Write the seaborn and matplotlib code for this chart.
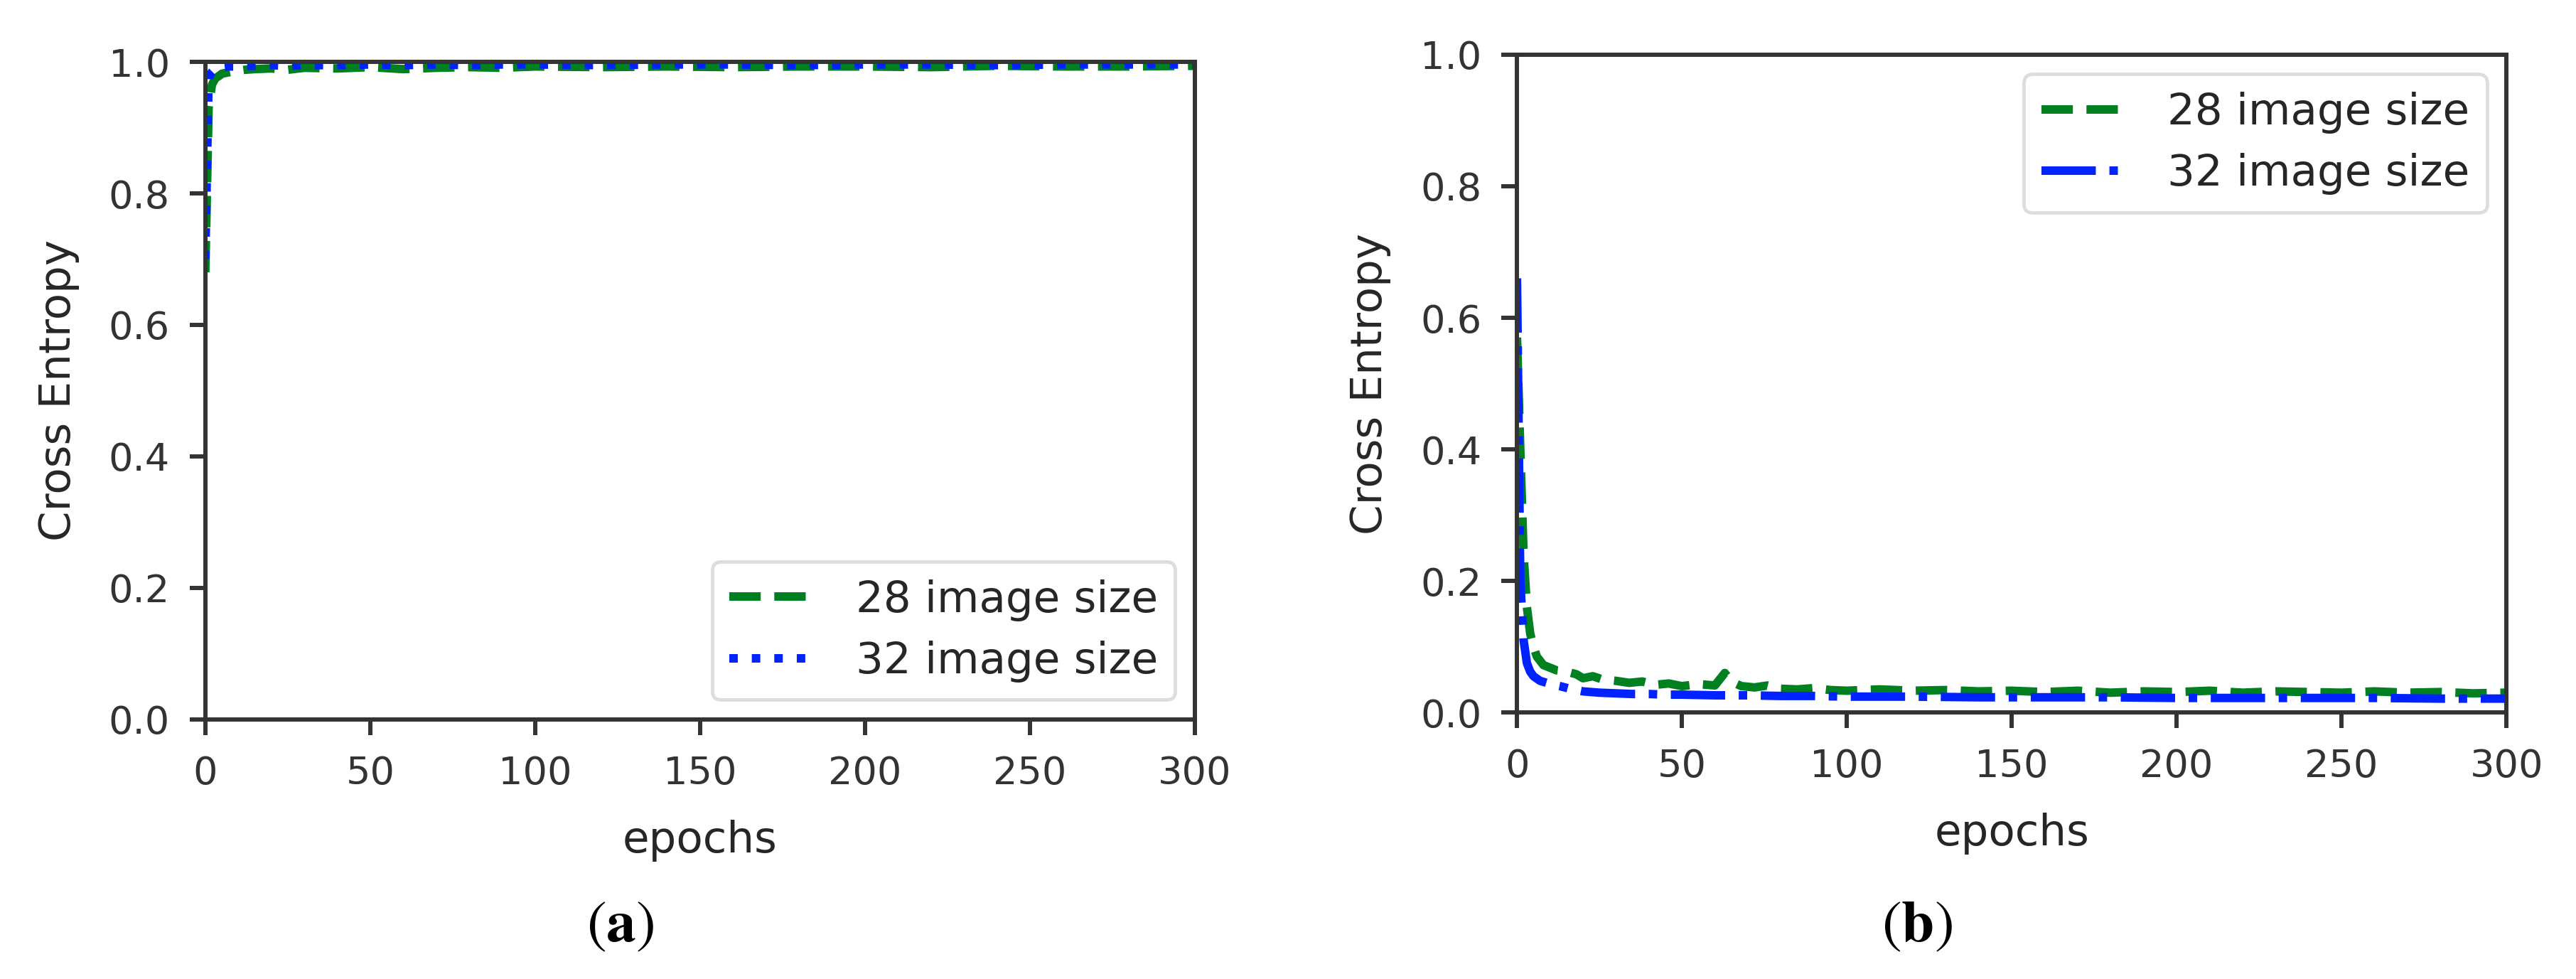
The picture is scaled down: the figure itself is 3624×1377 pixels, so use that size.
import matplotlib
matplotlib.use("Agg")
import matplotlib.pyplot as plt
import numpy as np
import pandas as pd
import seaborn as sns

# accuracy-like curves, panel (a)
acc_epochs = [0, 1, 2, 3, 4, 5, 7, 9, 12, 15, 20, 25, 30, 40, 50, 60, 70, 80, 90, 100,
              120, 140, 160, 180, 200, 220, 240, 260, 280, 300]
acc_28 = [0.68, 0.93, 0.965, 0.975, 0.978, 0.982, 0.984, 0.986, 0.988, 0.989, 0.990, 0.988,
          0.991, 0.990, 0.992, 0.989, 0.991, 0.992, 0.991, 0.993, 0.992, 0.993, 0.992, 0.993,
          0.993, 0.992, 0.994, 0.993, 0.993, 0.994]
acc_32 = [0.70, 0.975, 0.985, 0.990, 0.991, 0.992, 0.993, 0.993, 0.994, 0.994, 0.995, 0.994,
          0.995, 0.995, 0.996, 0.995, 0.996, 0.995, 0.996, 0.996, 0.995, 0.996, 0.996, 0.995,
          0.996, 0.996, 0.995, 0.996, 0.996, 0.996]

# loss curves, panel (b)
loss_epochs_28 = [0, 1, 2, 3, 4, 5, 6, 8, 10, 12, 15, 18, 20, 23, 26, 30, 34, 38, 42, 46,
                  50, 55, 60, 63, 65, 68, 72, 76, 80, 85, 90, 95, 100, 110, 120, 130, 140,
                  150, 160, 170, 180, 190, 200, 210, 220, 230, 240, 250, 260, 270, 280, 290, 300]
loss_28 = [0.57, 0.40, 0.24, 0.16, 0.12, 0.10, 0.085, 0.072, 0.068, 0.064, 0.062, 0.058,
           0.052, 0.055, 0.050, 0.048, 0.045, 0.047, 0.042, 0.044, 0.040, 0.043, 0.041,
           0.060, 0.047, 0.040, 0.038, 0.041, 0.036, 0.035, 0.037, 0.034, 0.033, 0.035,
           0.033, 0.034, 0.032, 0.033, 0.031, 0.033, 0.030, 0.032, 0.031, 0.033, 0.030,
           0.032, 0.031, 0.030, 0.032, 0.030, 0.031, 0.029, 0.030]
loss_epochs_32 = [0, 1, 2, 3, 4, 5, 7, 9, 11, 13, 16, 20, 25, 30, 35, 40, 45, 50, 60, 70,
                  80, 90, 100, 120, 140, 160, 180, 200, 220, 240, 260, 280, 300]
loss_32 = [0.66, 0.20, 0.11, 0.075, 0.062, 0.055, 0.048, 0.045, 0.042, 0.040, 0.036,
           0.032, 0.030, 0.029, 0.028, 0.028, 0.027, 0.027, 0.026, 0.026, 0.025, 0.025,
           0.024, 0.024, 0.023, 0.023, 0.023, 0.022, 0.022, 0.022, 0.022, 0.021, 0.021]

labels = ["28 image size", "32 image size"]
colors = ["#008020", "#0022ff"]

sns.set_theme(style="ticks")
plt.rcParams["font.family"] = ["DejaVu Sans"]
plt.rcParams["mathtext.fontset"] = "stix"
plt.rcParams["axes.edgecolor"] = "#333333"
plt.rcParams["xtick.color"] = "#333333"
plt.rcParams["ytick.color"] = "#333333"
plt.rcParams["text.color"] = "#262626"
plt.rcParams["axes.labelcolor"] = "#262626"

fig = plt.figure(figsize=(36.24, 13.77), dpi=100)
ax1 = fig.add_axes([0.0797, 0.2651, 0.3841, 0.6717])
ax2 = fig.add_axes([0.5889, 0.2723, 0.3841, 0.6718])

lw = 8.6
df_a = pd.DataFrame({"epoch": acc_epochs, "a28": acc_28, "a32": acc_32})
sns.lineplot(data=df_a, x="epoch", y="a28", ax=ax1, color=colors[0], lw=lw,
             linestyle="--", label=labels[0])
sns.lineplot(data=df_a, x="epoch", y="a32", ax=ax1, color=colors[1], lw=lw,
             linestyle=":", label=labels[1])

sns.lineplot(x=loss_epochs_28, y=loss_28, ax=ax2, color=colors[0], lw=lw,
             linestyle="--", label=labels[0])
sns.lineplot(x=loss_epochs_32, y=loss_32, ax=ax2, color=colors[1], lw=lw,
             linestyle="-.", label=labels[1])

for ax, loc in [(ax1, "lower right"), (ax2, "upper right")]:
    ax.set_xlim(0, 300)
    ax.set_ylim(0, 1.0)
    ax.set_xticks(np.arange(0, 301, 50))
    ax.set_yticks(np.arange(0, 1.01, 0.2))
    ax.set_yticklabels(["0.0", "0.2", "0.4", "0.6", "0.8", "1.0"])
    for s in ax.spines.values():
        s.set_linewidth(4.3)
        s.set_visible(True)
    ax.tick_params(axis="both", labelsize=39, width=4.3, length=16)
    ax.tick_params(axis="x", pad=20)
    ax.tick_params(axis="y", pad=20)
    ax.set_xlabel("epochs", fontsize=44)
    ax.set_ylabel("Cross Entropy", fontsize=44)
    ax.yaxis.set_label_coords(-0.127, 0.5)
    ax.xaxis.set_label_coords(0.5, -0.152)
    leg = ax.legend(loc=loc, fontsize=44, handlelength=2.0, handletextpad=0.9,
                    labelspacing=0.45, borderaxespad=0.45, frameon=True, fancybox=True)
    leg.get_frame().set_edgecolor("#d5d5d5")
    leg.get_frame().set_linewidth(3.5)

fig.text(0.2409, 0.0523, r"($\mathbf{a}$)", fontsize=60, family="STIXGeneral",
         ha="center", va="center", color="black")
fig.text(0.7442, 0.0523, r"($\mathbf{b}$)", fontsize=60, family="STIXGeneral",
         ha="center", va="center", color="black")

fig.savefig("out.png", dpi=100, facecolor="white")
